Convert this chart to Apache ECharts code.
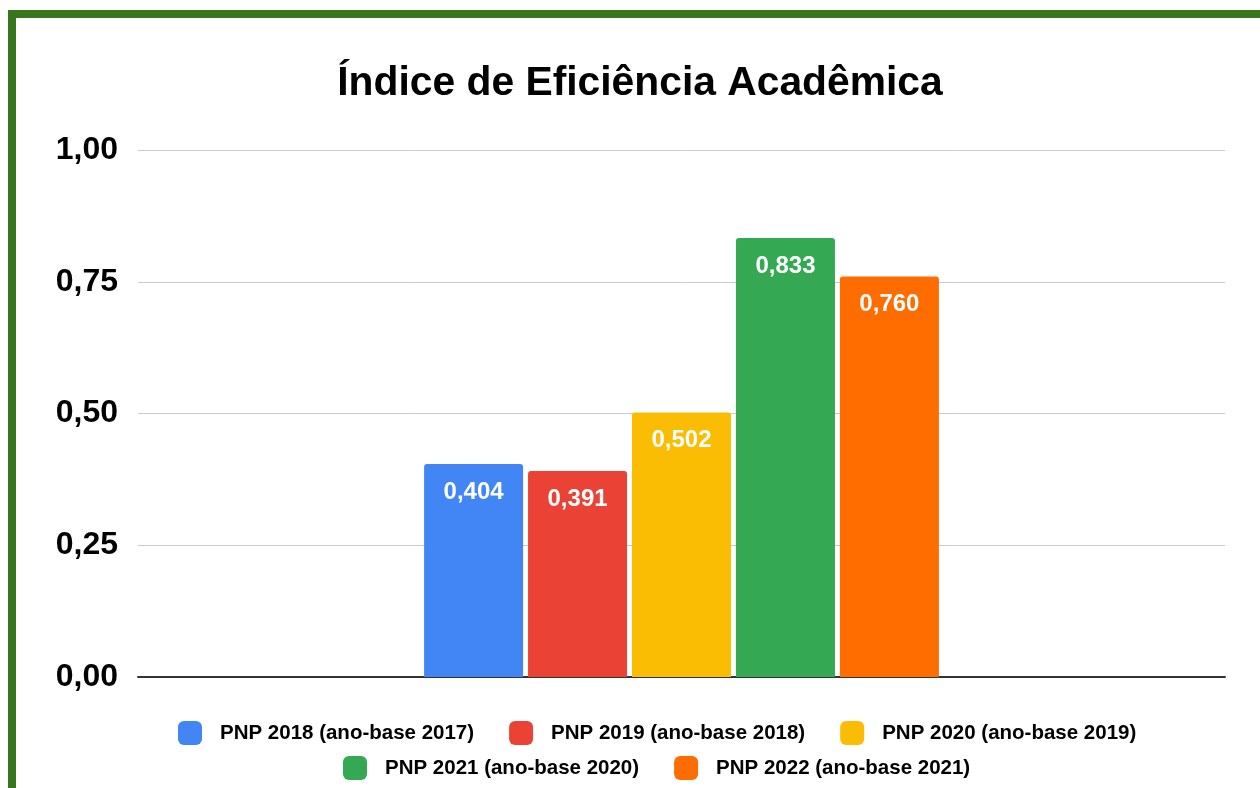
<!DOCTYPE html>
<html>
<head>
<meta charset="utf-8">
<script src="https://cdn.jsdelivr.net/npm/echarts@6/dist/echarts.min.js"></script>
<style>
  html, body { margin: 0; padding: 0; background: #fff; }
  #frame {
    position: absolute; left: 8px; top: 10px; width: 1252px; height: 778px;
    border-left: 8px solid #38761d; border-top: 8px solid #38761d; box-sizing: border-box;
  }
  #chart { position: absolute; left: 0; top: 0; width: 1260px; height: 788px; }
</style>
</head>
<body>
<div id="frame"></div>
<div id="chart"></div>
<script>
// dados do gráfico
const categories = ['Índice de Eficiência Acadêmica'];
const seriesNames = [
  'PNP 2018 (ano-base 2017)',
  'PNP 2019 (ano-base 2018)',
  'PNP 2020 (ano-base 2019)',
  'PNP 2021 (ano-base 2020)',
  'PNP 2022 (ano-base 2021)',
];
const seriesValues = [0.404, 0.391, 0.502, 0.833, 0.760];
const seriesColors = ['#4285f4', '#ea4335', '#fbbc04', '#34a853', '#ff6d01'];
const yTicks = [0, 0.25, 0.5, 0.75, 1];

const fmt = (v, d) => Number(v).toFixed(d).replace('.', ',');

const chart = echarts.init(document.getElementById('chart'));

const legendText = {
  fontFamily: 'Liberation Sans, Arial, sans-serif',
  fontSize: 20.5,
  fontWeight: 'bold',
  color: '#000',
  padding: [0, 0, 0, 13],
};

chart.setOption({
  animation: false,
  title: {
    text: 'Índice de Eficiência Acadêmica',
    left: 635,
    textAlign: 'center',
    top: 58,
    textStyle: {
      fontFamily: 'Liberation Sans, Arial, sans-serif',
      fontSize: 40.8,
      fontWeight: 'bold',
      color: '#000',
    },
  },
  legend: [
    {
      data: seriesNames.slice(0, 3),
      top: 721,
      left: 178,
      padding: 0,
      itemWidth: 24,
      itemHeight: 24,
      itemGap: 35,
      icon: 'roundRect',
      textStyle: legendText,
    },
    {
      data: seriesNames.slice(3),
      top: 756,
      left: 343,
      padding: 0,
      itemWidth: 24,
      itemHeight: 24,
      itemGap: 35,
      icon: 'roundRect',
      textStyle: legendText,
    },
  ],
  grid: {
    left: 138,
    right: 35,
    top: 150,
    bottom: 111,
  },
  xAxis: {
    type: 'category',
    data: categories,
    axisLine: { lineStyle: { color: '#333', width: 2 } },
    axisTick: { show: false },
    axisLabel: { show: false },
  },
  yAxis: {
    type: 'value',
    min: yTicks[0],
    max: yTicks[yTicks.length - 1],
    interval: 0.25,
    axisLine: { show: false },
    axisTick: { show: false },
    splitLine: { lineStyle: { color: '#cccccc', width: 1 } },
    axisLabel: {
      margin: 20,
      fontFamily: 'Liberation Sans, Arial, sans-serif',
      fontSize: 32,
      fontWeight: 'bold',
      color: '#000',
      formatter: (v) => fmt(v, 2),
    },
  },
  series: seriesNames.map((name, i) => ({
    name,
    type: 'bar',
    data: [seriesValues[i]],
    barWidth: 99,
    barGap: '5%',
    itemStyle: { color: seriesColors[i], borderRadius: [3, 3, 0, 0] },
    label: {
      show: true,
      position: 'insideTop',
      distance: 16,
      color: '#fff',
      fontFamily: 'Liberation Sans, Arial, sans-serif',
      fontSize: 24,
      fontWeight: 'bold',
      formatter: (p) => fmt(p.value, 3),
    },
  })),
});
</script>
</body>
</html>
